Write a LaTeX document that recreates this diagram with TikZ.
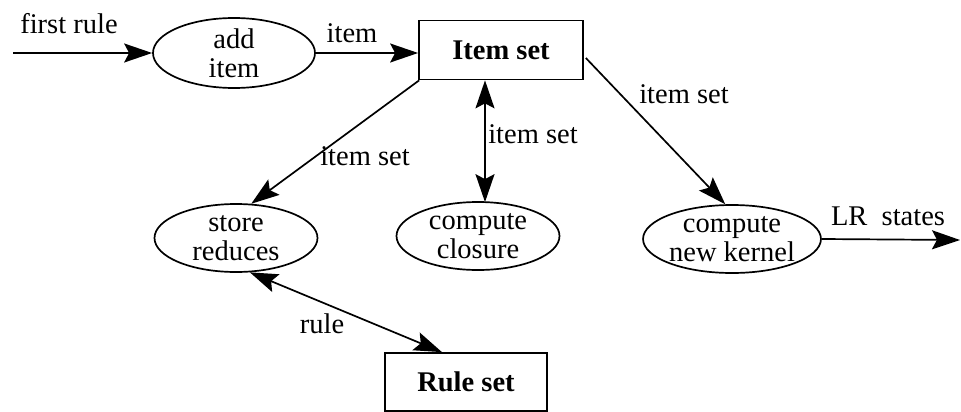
\documentclass[tikz,border=0pt]{standalone}
\usepackage{fontspec}
\setmainfont{Liberation Serif}
\usetikzlibrary{arrows.meta,shapes.geometric}

\tikzset{
  base/.style={font=\fontsize{28.5}{29}\selectfont},
  proc/.style={base, draw, line width=1.7pt, ellipse, inner sep=0pt,
    minimum width=163pt, minimum height=68pt, align=center},
  store/.style={draw, line width=1.7pt, rectangle, inner sep=0pt,
    minimum width=164pt, minimum height=59pt, font=\fontsize{28.5}{29}\selectfont\bfseries},
  lbl/.style={base, inner sep=0pt},
  flow/.style={line width=1.7pt, -{Stealth[length=28pt, width=19pt, inset=5pt]}},
  both/.style={line width=1.7pt, {Stealth[length=28pt, width=19pt, inset=5pt]}-{Stealth[length=28pt, width=19pt, inset=5pt]}}
}

\begin{document}
\begin{tikzpicture}[x=1pt, y=-1pt]
\useasboundingbox (0,0) rectangle (961,412);

% processes and stores
\node[proc, minimum width=162pt, minimum height=70pt] (add) at (234,53) {add\\item};
\node[store] (items) at (501,50) {Item set};
\node[proc] (reduce) at (236,238) {store\\reduces};
\node[proc] (closure) at (478,236) {compute\\closure};
\node[proc, minimum width=174pt] (kernel) at (732,239) {compute\\new kernel};
\node[store, minimum width=162pt, minimum height=58pt] (rules) at (466,382) {Rule set};

% free ends
\coordinate (in) at (13,53);
\coordinate (out) at (960,240);
\coordinate (vx) at (485,0);

% flows
\draw[flow] (in) -- (add.west);
\node[lbl] (lfirst) at (69,24) {first rule};

\draw[flow] (add.east) -- (add.east -| items.west);
\node[lbl] (litem) at (352,33) {item};

\draw[flow] ([xshift=1pt]items.south west) -- (reduce.66);
\node[lbl] (lreduce) at (365,156) {item set};

\draw[both] (items.south -| vx) -- ([yshift=-1pt]closure.north -| vx);
\node[lbl] (lclosure) at (533,134) {item set};

\draw[flow] ([xshift=2pt,yshift=-8pt]items.east) -- (kernel.101);
\node[lbl] (lkernel) at (684,94) {item set};

\draw[flow] (kernel.east) -- (out);
\node[lbl] (lout) at (888,216) {LR\ \ states};

\draw[both] (reduce.-68) -- ([xshift=-24pt]rules.north);
\node[lbl] (lrule) at (322,324) {rule};
\end{tikzpicture}
\end{document}
